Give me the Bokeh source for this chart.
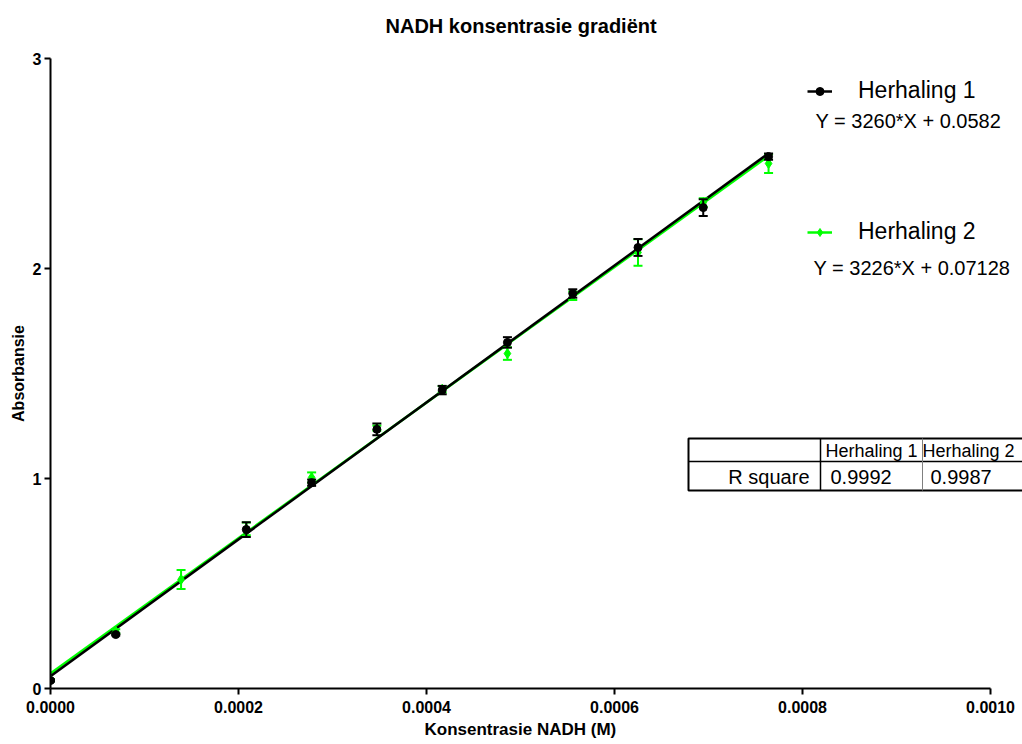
from bokeh.plotting import figure
from bokeh.models import (Range1d, FixedTicker, PrintfTickFormatter, Legend, LegendItem,
                          Label, BoxAnnotation, Arrow, ColumnDataSource, Title)
from bokeh.embed import file_html
from bokeh.resources import INLINE
import numpy as np

FONT = "Liberation Sans"

# ---- data ----
conc = [0.0, 6.944e-5, 1.389e-4, 2.083e-4, 2.778e-4, 3.472e-4, 4.167e-4,
        4.861e-4, 5.556e-4, 6.250e-4, 6.944e-4, 7.639e-4]
h1 = [0.038, 0.257, np.nan, 0.757, 0.980, 1.234, 1.421, 1.648, 1.881, 2.100, 2.290, 2.533]
h1_err = [0.005, 0.005, np.nan, 0.035, 0.015, 0.028, 0.02, 0.025, 0.02, 0.04, 0.04, 0.015]
h2 = [0.040, 0.272, 0.519, 0.760, 1.005, 1.240, 1.425, 1.595, 1.870, 2.076, 2.314, 2.500]
h2_err = [0.005, 0.01, 0.045, 0.03, 0.024, 0.012, 0.015, 0.03, 0.02, 0.063, 0.02, 0.045]

fit1 = (3260.0, 0.0582)
fit2 = (3226.0, 0.07128)
r_square = {"Herhaling 1": "0.9992", "Herhaling 2": "0.9987"}
series_names = ["Herhaling 1", "Herhaling 2"]
x_ticks = [0.0, 0.0002, 0.0004, 0.0006, 0.0008, 0.0010]
y_ticks = [0, 1, 2, 3]
x_axis_max = 0.0010
y_axis_max = 3

# layout (page px)
FL, FB, FT, FR_AXIS, FR = 50, 688, 58, 990, 1022
frame_w = FR - FL
frame_h = FB - FT
x_end = x_axis_max * frame_w / (FR_AXIS - FL)

p = figure(frame_width=frame_w, frame_height=frame_h, x_range=Range1d(0, x_end),
           y_range=Range1d(0, y_axis_max),
           output_backend="svg", toolbar_location=None,
           min_border_left=FL, min_border_right=0, min_border_top=FT, min_border_bottom=744 - FB)
p.title.text = "NADH konsentrasie gradiënt"
p.title.align = "left"
p.title.offset = 335
p.title.text_font = FONT
p.title.text_font_size = "20px"
p.title.text_font_style = "bold"
p.title.text_color = "black"
p.title.standoff = 22

# small spacer between title and plot area
p.add_layout(Title(text=" ", text_font_size="8px", standoff=0), "above")

p.outline_line_color = None
p.xgrid.visible = False
p.ygrid.visible = False

for ax in (p.xaxis[0], p.yaxis[0]):
    ax.axis_line_width = 2
    ax.major_tick_line_width = 2
    ax.major_tick_out = 6
    ax.major_tick_in = 0
    ax.minor_tick_line_color = None
    ax.major_label_text_font = FONT
    ax.major_label_text_font_size = "16px"
    ax.major_label_text_font_style = "bold"
    ax.major_label_text_color = "black"
    ax.axis_label_text_font = FONT
    ax.axis_label_text_font_size = "16px"
    ax.axis_label_text_font_style = "bold"
    ax.axis_label_text_color = "black"

p.xaxis.ticker = FixedTicker(ticks=x_ticks)
p.xaxis.formatter = PrintfTickFormatter(format="%.4f")
p.xaxis.bounds = (0, x_axis_max)
p.yaxis.ticker = FixedTicker(ticks=y_ticks)
p.yaxis.axis_label = "Absorbansie"
p.xaxis.major_label_standoff = 6
p.yaxis.major_label_standoff = 3
p.yaxis.axis_label_standoff = 3

xlab = Title(text="Konsentrasie NADH (M)", align="left", offset=374, text_font=FONT,
             text_font_size="17px", text_font_style="bold", text_color="black", standoff=5)
p.add_layout(xlab, "below")

# ---- fit lines ----
xfit = np.array([conc[0], conc[-1]])
l2 = p.line(xfit, fit2[0] * xfit + fit2[1], line_color="#00FF00", line_width=2.5)
l1 = p.line(xfit, fit1[0] * xfit + fit1[1], line_color="black", line_width=2.5)

def draw_series(y, err, color, marker, size):
    y = np.array(y, dtype=float)
    err = np.array(err, dtype=float)
    src = ColumnDataSource(dict(x=conc, y=y, lo=y - err, hi=y + err))
    p.segment(x0="x", y0="lo", x1="x", y1="hi", source=src, line_color=color, line_width=2)
    p.scatter(x="x", y="hi", source=src, marker="dash", size=9, line_color=color, line_width=2)
    p.scatter(x="x", y="lo", source=src, marker="dash", size=9, line_color=color, line_width=2)
    return p.scatter(x="x", y="y", source=src, marker=marker, size=size,
                     fill_color=color, line_color=color)

s2 = draw_series(h2, h2_err, "#00FF00", "diamond", 10)
s1 = draw_series(h1, h1_err, "black", "circle", 8)

# ---- legend ----
def fx(px): return px - FL
def fy(py): return FB - py

legend = Legend(items=[LegendItem(label=series_names[0], renderers=[l1, s1]),
                       LegendItem(label=series_names[1], renderers=[l2, s2])],
                location=(fx(807), fy(245)), spacing=114, padding=0, margin=0,
                border_line_color=None, background_fill_alpha=0,
                glyph_width=25, glyph_height=20, label_standoff=26,
                label_text_font=FONT, label_text_font_size="23px", label_text_color="black")
p.add_layout(legend)

def eq_text(fit):
    return "Y = %g*X + %s" % (fit[0], repr(fit[1]))

for txt, px, py in [(eq_text(fit1), 815, 120), (eq_text(fit2), 813, 267)]:
    p.add_layout(Label(x=fx(px), y=fy(py), x_units="screen", y_units="screen", text=txt,
                       text_font=FONT, text_font_size="20px", text_baseline="middle",
                       text_align="left", text_color="black"))

# ---- R square table ----
T_L, T_T, T_M, T_B, T_R = 688, 438, 461, 490, 1040
C1, C2 = 820, 922
p.add_layout(BoxAnnotation(left=fx(T_L), right=fx(T_R), top=fy(T_T), bottom=fy(T_B),
                           left_units="screen", right_units="screen", top_units="screen",
                           bottom_units="screen", fill_alpha=0, line_color="black",
                           line_alpha=1, line_width=2))

def seg(x0, y0, x1, y1, color="black", w=1.5):
    p.add_layout(Arrow(x_start=fx(x0), y_start=fy(y0), x_end=fx(x1), y_end=fy(y1),
                       start_units="screen", end_units="screen", start=None, end=None,
                       line_color=color, line_width=w))

seg(T_L, T_M, T_R, T_M)
seg(C1, T_T, C1, T_B)
seg(C2, T_T, C2, T_B, color="#808080", w=1)

def tlabel(txt, px, py, size, align="center"):
    p.add_layout(Label(x=fx(px), y=fy(py), x_units="screen", y_units="screen", text=txt,
                       text_font=FONT, text_font_size=size, text_baseline="middle",
                       text_align=align, text_color="black"))

tlabel(series_names[0], (C1 + C2) / 2, 450, "18px")
tlabel(series_names[1], 968, 450, "18px")
tlabel("R square", 809, 476, "20px", align="right")
tlabel(r_square[series_names[0]], 830, 476, "20px", align="left")
tlabel(r_square[series_names[1]], 930, 476, "20px", align="left")

open("out.html", "w").write(file_html(p, INLINE))
